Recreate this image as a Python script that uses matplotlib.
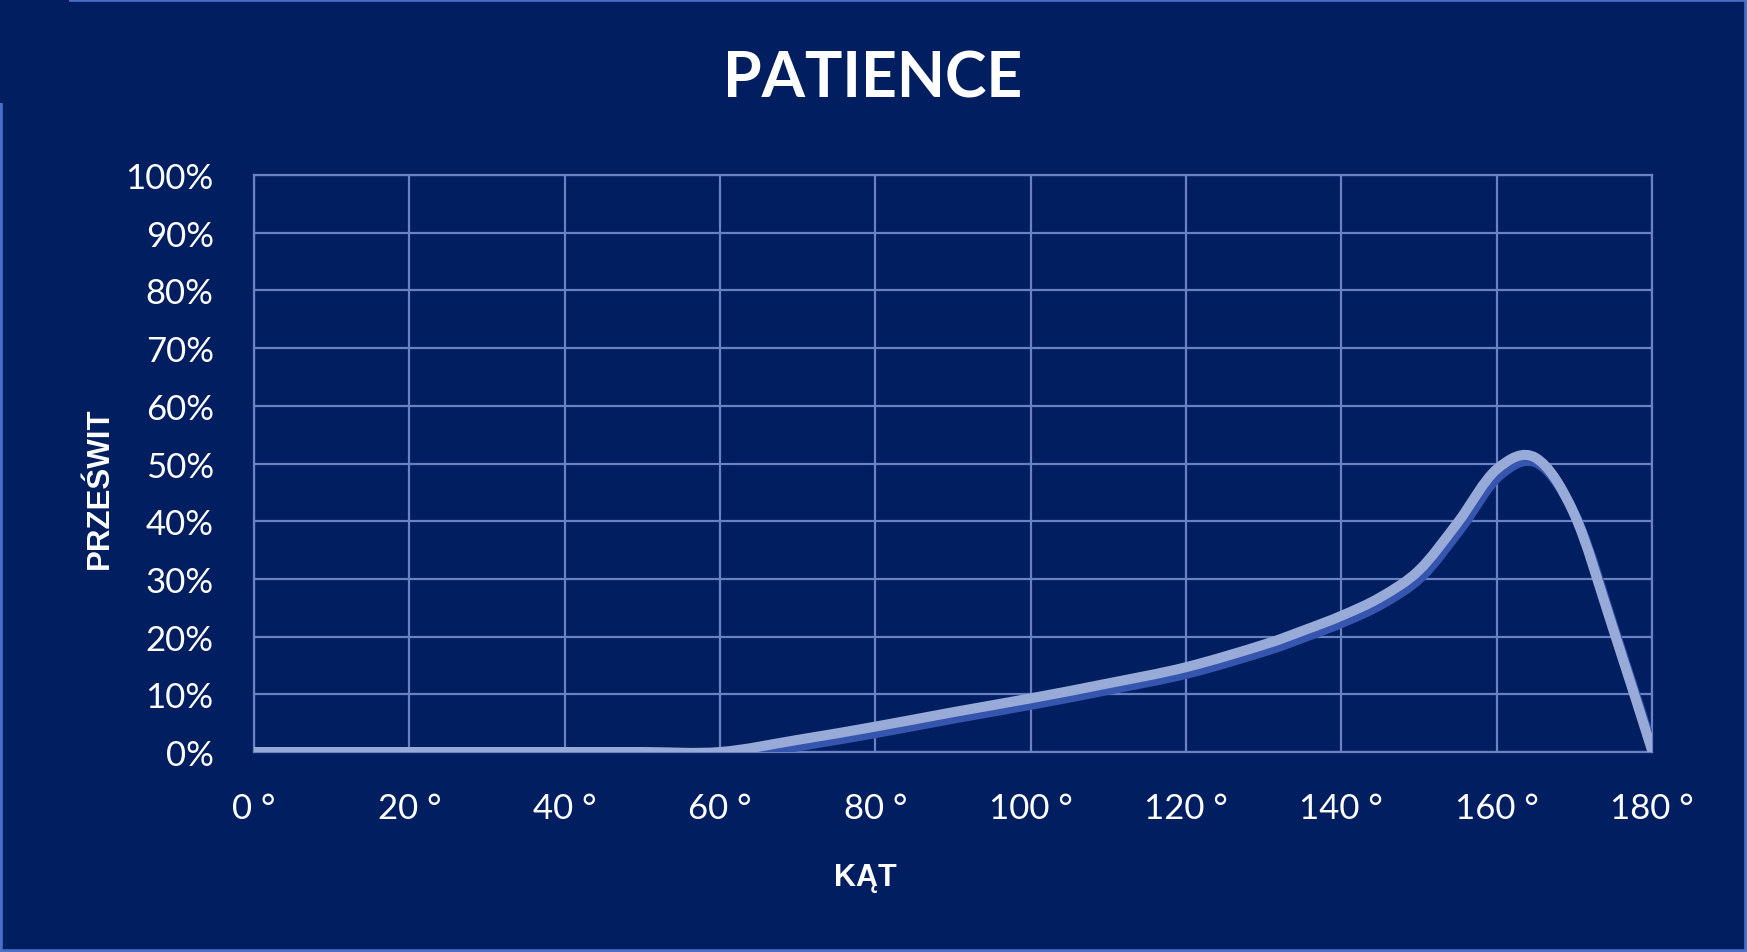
import matplotlib
matplotlib.use("Agg")
import matplotlib.pyplot as plt
from matplotlib import transforms
from matplotlib.lines import Line2D
from matplotlib.path import Path
from matplotlib.patches import PathPatch
from matplotlib.ticker import FuncFormatter

# ---- data ----
angles = [0, 10, 20, 30, 40, 50, 60, 70, 80, 90, 100, 110, 120, 130,
          135, 140, 145, 150, 155, 160, 165, 170, 175, 180]
przeswit = [0, 0, 0, 0, 0, 0, 0, 2.1, 4.4, 6.9, 9.3, 11.9, 14.7, 18.6,
            21.0, 23.6, 26.8, 31.5, 39.8, 49.0, 51.0, 41.2, 21.3, 0.3]
x_ticks = [0, 20, 40, 60, 80, 100, 120, 140, 160, 180]
y_ticks = [0, 10, 20, 30, 40, 50, 60, 70, 80, 90, 100]
title = "PATIENCE"
x_label = "KĄT"
y_label = "PRZEŚWIT"

BG = "#011e60"
FRAME = "#4a6fc8"
GRID = "#6a82c2"
LIGHT = "#98aad7"
DARK = "#3555ae"

W, H = 1747, 953
fig = plt.figure(figsize=(W / 100, H / 100), dpi=100, facecolor=BG)

# frame (light blue border, missing at top-left corner)
def px_line(x0, y0, x1, y1):
    fig.add_artist(Line2D([x0 / W, x1 / W], [1 - y0 / H, 1 - y1 / H],
                          transform=fig.transFigure, color=FRAME, lw=2.6,
                          solid_capstyle="butt"))

px_line(69, 1.2, W, 1.2)
px_line(1.2, 104, 1.2, H)
px_line(W - 1.5, 0, W - 1.5, H)
px_line(0, H - 1.5, W, H - 1.5)

ax = fig.add_axes([254 / W, 1 - 753 / H, (1652 - 254) / W, (753 - 176) / H])
ax.set_facecolor(BG)
ax.set_xlim(0, 180)
ax.set_ylim(0, 100)
ax.set_xticks(x_ticks)
ax.set_yticks(y_ticks)
ax.xaxis.set_major_formatter(FuncFormatter(lambda v, p: f"{int(v)} °"))
ax.yaxis.set_major_formatter(FuncFormatter(lambda v, p: f"{int(v)}%"))
ax.tick_params(length=0, pad=29, labelsize=25, colors="white")
for lab in ax.get_xticklabels() + ax.get_yticklabels():
    lab.set_family(["Lato", "DejaVu Sans"])
ax.grid(True, color=GRID, lw=1.6)
for s in ax.spines.values():
    s.set_color(GRID)
    s.set_linewidth(1.6)
ax.set_axisbelow(True)


# smoothed line (Catmull-Rom control points -> cubic Bezier path, like a "smoothed line" chart)
def smooth_path(xs, ys):
    pts = list(zip(xs, ys))
    n = len(pts)
    verts = [pts[0]]
    codes = [Path.MOVETO]
    for i in range(n - 1):
        p0 = pts[i - 1] if i > 0 else pts[i]
        p1 = pts[i]
        p2 = pts[i + 1]
        p3 = pts[i + 2] if i + 2 < n else pts[i + 1]
        c1 = (p1[0] + (p2[0] - p0[0]) / 6, p1[1] + (p2[1] - p0[1]) / 6)
        c2 = (p2[0] - (p3[0] - p1[0]) / 6, p2[1] - (p3[1] - p1[1]) / 6)
        verts += [c1, c2, p2]
        codes += [Path.CURVE4] * 3
    return Path(verts, codes)


curve = smooth_path(angles, przeswit)
shadow_tr = transforms.offset_copy(ax.transData, fig=fig, x=3, y=-6, units="dots")
ax.add_patch(PathPatch(curve, fill=False, edgecolor=DARK, lw=7.2, transform=shadow_tr,
                       capstyle="round", joinstyle="round", zorder=3))
ax.add_patch(PathPatch(curve, fill=False, edgecolor=LIGHT, lw=7.2,
                       capstyle="round", joinstyle="round", zorder=4))

fig.text(873 / W, 1 - 80 / H, title, ha="center", va="center", color="white",
         fontsize=45, fontweight="bold", family=["Lato", "DejaVu Sans"])
fig.text(865 / W, 1 - 878 / H, x_label, ha="center", va="center", color="white",
         fontsize=22, fontweight="bold", family=["Liberation Sans", "DejaVu Sans"])
fig.text(100 / W, 1 - 488 / H, y_label, ha="center", va="center", color="white",
         rotation=90, fontsize=22.5, fontweight="bold",
         family=["Liberation Sans", "DejaVu Sans"])

fig.savefig("out.png", dpi=100, facecolor=BG)
